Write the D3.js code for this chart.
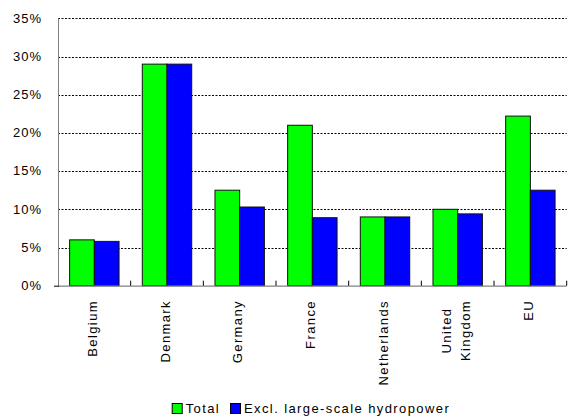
<!DOCTYPE html>
<html>
<head>
<meta charset="utf-8">
<script src="https://cdn.jsdelivr.net/npm/d3@7"></script>
<style>
  html, body { margin: 0; padding: 0; background: #fff; }
  text { font-family: "Liberation Sans", Arial, sans-serif; fill: #000; }
</style>
</head>
<body>
<svg id="chart" width="570" height="419"></svg>
<script>
const categories = ["Belgium", "Denmark", "Germany", "France", "Netherlands", "United\nKingdom", "EU"];
const seriesNames = ["Total", "Excl. large-scale hydropower"];
const totalValues = [6.0, 29.0, 12.5, 21.0, 9.0, 10.0, 22.2];
const exclValues = [5.8, 29.0, 10.3, 8.9, 9.0, 9.4, 12.5];
const yTicks = [0, 5, 10, 15, 20, 25, 30, 35];
const seriesColors = ["#00FF00", "#0000FF"];

const svg = d3.select("#chart");
const margin = { left: 58, right: 3.3, top: 18.3, bottom: 133.3 };
const W = 570, H = 419;
const x0 = margin.left, x1 = W - margin.right;
const yTop = margin.top, yBot = H - margin.bottom;

const x = d3.scaleBand().domain(categories).range([x0, x1]).padding(0);
const groupFrac = 0.68;
const xs = d3.scaleBand().domain(seriesNames)
  .range([x.bandwidth() * (1 - groupFrac) / 2, x.bandwidth() * (1 + groupFrac) / 2]).padding(0);
const y = d3.scaleLinear().domain([0, 35]).range([yBot, yTop]);

// gridlines
svg.append("g").selectAll("line").data(yTicks.filter(d => d > 0)).join("line")
  .attr("x1", x0).attr("x2", x1)
  .attr("y1", d => Math.round(y(d)) + 0.5).attr("y2", d => Math.round(y(d)) + 0.5)
  .attr("stroke", "#000").attr("stroke-width", 1)
  .attr("stroke-dasharray", "2,1.5");

// y labels
svg.append("g").selectAll("text").data(yTicks).join("text")
  .attr("x", 42).attr("y", d => y(d)).attr("dy", "0.33em")
  .attr("text-anchor", "end").attr("font-size", 13).attr("letter-spacing", "1px")
  .text(d => d + "%");

// bars
const data = categories.map((c, i) => ({ c, vals: [totalValues[i], exclValues[i]] }));
const groups = svg.append("g").selectAll("g").data(data).join("g")
  .attr("transform", d => `translate(${x(d.c)},0)`);
groups.selectAll("rect").data(d => d.vals.map((v, j) => ({ v, s: seriesNames[j], j }))).join("rect")
  .attr("x", d => xs(d.s)).attr("width", xs.bandwidth())
  .attr("y", d => y(d.v)).attr("height", d => y(0) - y(d.v))
  .attr("fill", d => seriesColors[d.j])
  .attr("stroke", "#111").attr("stroke-width", 1);

// axes lines
svg.append("line").attr("x1", x0 + 0.5).attr("x2", x0 + 0.5).attr("y1", yTop).attr("y2", yBot)
  .attr("stroke", "#808080").attr("stroke-width", 1);
svg.append("line").attr("x1", x0).attr("x2", x1).attr("y1", yBot + 0.5).attr("y2", yBot + 0.5)
  .attr("stroke", "#808080").attr("stroke-width", 1.2);
// x ticks (between categories, pointing up)
const tickPos = categories.map(c => x(c) + x.bandwidth());
svg.append("g").selectAll("line").data(tickPos).join("line")
  .attr("x1", d => d).attr("x2", d => d).attr("y1", yBot - 5).attr("y2", yBot)
  .attr("stroke", "#000").attr("stroke-width", 1);
svg.append("line").attr("x1", x0 - 4).attr("x2", x0 + 1).attr("y1", yBot + 0.5).attr("y2", yBot + 0.5)
  .attr("stroke", "#000");

// category labels (rotated)
const labelTop = 300;
categories.forEach(c => {
  const lines = c.split("\n");
  const cx = x(c) + x.bandwidth() / 2;
  const lineGap = 18.5;
  const g = svg.append("g");
  const texts = lines.map((ln, k) => g.append("text")
    .attr("font-size", 13).attr("letter-spacing", "1.4px").text(ln));
  const lens = texts.map(t => t.node().getComputedTextLength());
  const maxLen = d3.max(lens);
  const n = lines.length;
  texts.forEach((t, k) => {
    const off = (k - (n - 1) / 2) * lineGap;
    const px = cx + off - 2 + 4.7;
    const py = labelTop + maxLen / 2;
    t.attr("text-anchor", "middle")
      .attr("transform", `translate(${px},${py}) rotate(-90)`);
  });
});

// legend
const legend = svg.append("g");
const legItems = [
  { name: seriesNames[0], color: seriesColors[0], sx: 171.7 },
  { name: seriesNames[1], color: seriesColors[1], sx: 230 }
];
legItems.forEach(it => {
  legend.append("rect").attr("x", it.sx + 0.5).attr("y", 403.5).attr("width", 10).attr("height", 10)
    .attr("fill", it.color).attr("stroke", "#000").attr("stroke-width", 1);
  legend.append("text").attr("x", it.sx + 14).attr("y", 413)
    .attr("font-size", 13).attr("letter-spacing", "1.4px").text(it.name);
});
</script>
</body>
</html>
